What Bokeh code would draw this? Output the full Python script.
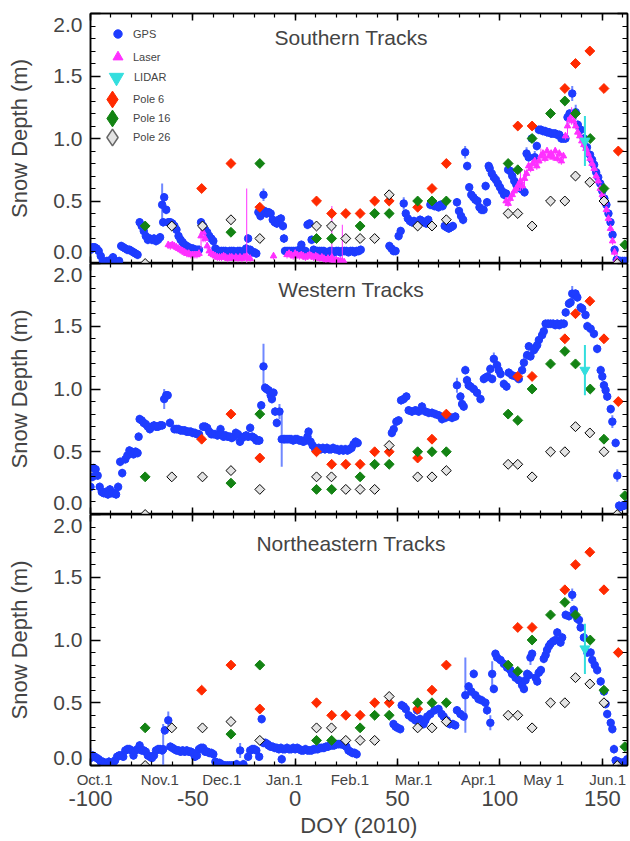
import math
from bokeh.plotting import figure
from bokeh.layouts import column
from bokeh.models import Range1d, LinearAxis, FixedTicker, Label, Legend, LegendItem
from bokeh.embed import file_html
from bokeh.resources import INLINE

FONT = "Liberation Sans"

# ---------------- axis ticks / labels ----------------
month_labels = ["Oct.1", "Nov.1", "Dec.1", "Jan.1", "Feb.1", "Mar.1", "Apr.1", "May 1", "Jun.1"]
month_label_doy = [-98.0, -66.1, -35.9, -5.4, 26.7, 57.8, 89.5, 121.3, 152.6]
doy_ticks = [-100, -50, 0, 50, 100, 150]
doy_minor = [-100, -90, -80, -70, -60, -50, -40, -30, -20, -10, 0, 10, 20, 30, 40, 50,
             60, 70, 80, 90, 100, 110, 120, 130, 140, 150, 160]
depth_ticks = [0, 0.5, 1, 1.5, 2]
depth_minor = [0.1, 0.2, 0.3, 0.4, 0.6, 0.7, 0.8, 0.9, 1.1, 1.2, 1.3, 1.4, 1.6, 1.7, 1.8, 1.9]
depth_tick_labels = ["0.0", "0.5", "1.0", "1.5", "2.0"]
# the end labels of the depth axis are drawn just inside the axis span in the original
depth_label_pos_upper = [0.09, 0.5, 1.0, 1.5, 1.91]
depth_label_pos_lower = [0.056, 0.5, 1.0, 1.5, 1.91]

# ---------------- Southern tracks: GPS ----------------
s_gps_doy = [
    -100, -99, -98, -97, -96, -95, -94, -93, -92, -91, -90, -89, -88, -87, -86,
    -85, -84, -83, -82, -81, -80, -79, -78, -77,
    -76, -75, -74, -73, -72, -71, -70, -69, -68, -67, -66,
    -65, -64.5, -64, -63, -62, -61, -60, -59, -58, -57, -56, -55, -54, -53, -52, -51, -50, -49, -48, -47,
    -46, -45, -44, -43, -42, -41, -40, -39, -38, -37, -36, -35, -34, -33, -32, -31, -30, -29, -28, -27,
    -26, -25, -24, -23, -22, -21, -20, -19,
    -18, -17, -16, -15.5, -15, -14, -13, -12, -11, -10, -9, -8, -7, -6, -5.5,
    -5, -4, -3, -2, -1, 0, 1, 2, 3, 4, 5, 6, 7, 8,
    9, 10, 11, 12, 13, 14, 15, 16, 17, 18, 19, 20, 21, 22, 23, 24, 25, 26, 27, 28, 29, 30, 31, 32,
    46, 47, 48, 49, 50.5, 51.5, 53, 54, 55, 56, 57, 58, 59, 60, 61, 62, 63, 64, 65,
    66, 67, 68, 69, 70, 71, 72, 73, 74, 75, 76, 77,
    79, 80, 81, 82, 83, 84, 85, 86, 87, 88, 89, 90, 91, 92,
    93, 93.7, 94.5, 95, 96, 97, 98, 99, 100, 101, 102, 103,
    104, 105, 106, 107, 108, 109, 110, 111, 112,
    113, 114, 115.5, 117, 118,
    119, 120, 121, 122, 123, 124, 125, 126, 127, 128, 129, 130, 131, 132,
    133, 134, 135.3, 137, 138, 139.5, 141, 142.5,
    144, 145, 146, 147, 148, 149, 150, 151, 152, 153, 154, 155, 156, 157, 158, 159, 160, 161, 162]
s_gps_depth = [
    0.11, 0.13, 0.13, 0.12, 0.10, 0.06, 0.02, 0.01, 0.02, 0.01, 0.03, 0.05, 0.02, 0.01, 0.02,
    0.14, 0.13, 0.12, 0.11, 0.11, 0.10, 0.09, 0.08, 0.07,
    0.33, 0.30, 0.26, 0.22, 0.19, 0.20, 0.19, 0.20, 0.18, 0.19, 0.21,
    0.47, 0.33, 0.53, 0.43, 0.33, 0.33, 0.32, 0.30, 0.27, 0.22, 0.19, 0.17, 0.15, 0.14, 0.13, 0.12, 0.12, 0.11, 0.11, 0.11,
    0.33, 0.30, 0.27, 0.25, 0.22, 0.20, 0.18, 0.12, 0.10, 0.10, 0.10, 0.10, 0.10, 0.09, 0.10, 0.10, 0.10, 0.09, 0.10, 0.10,
    0.09, 0.10, 0.12, 0.20, 0.11, 0.09, 0.09, 0.08,
    0.41, 0.38, 0.40, 0.55, 0.42, 0.40, 0.41, 0.40, 0.35, 0.33, 0.32, 0.35, 0.36, 0.30, 0.20,
    0.10, 0.10, 0.10, 0.10, 0.10, 0.10, 0.10, 0.11, 0.15, 0.10, 0.10, 0.31, 0.32, 0.19,
    0.11, 0.10, 0.10, 0.10, 0.10, 0.10, 0.09, 0.09, 0.10, 0.10, 0.09, 0.10, 0.10, 0.09, 0.10, 0.10, 0.10, 0.09, 0.10, 0.10, 0.09, 0.10, 0.10, 0.11,
    0.14, 0.12, 0.10, 0.10, 0.22, 0.26, 0.48, 0.40, 0.36, 0.34, 0.33, 0.34, 0.32, 0.33, 0.35, 0.34, 0.33, 0.32, 0.35,
    0.47, 0.47, 0.46, 0.46, 0.45, 0.47, 0.46, 0.30, 0.29, 0.28, 0.29, 0.30,
    0.49, 0.42, 0.38, 0.35, 0.89, 0.78, 0.61, 0.55, 0.53, 0.51, 0.50, 0.45, 0.43, 0.43,
    0.62, 0.49, 0.78, 0.76, 0.72, 0.69, 0.67, 0.64, 0.61, 0.58, 0.55, 0.56,
    0.75, 0.74, 0.70, 0.66, 0.63, 0.62, 0.60, 0.59, 0.57,
    0.88, 0.85, 1.00, 0.85, 0.94,
    1.07, 1.07, 1.06, 1.06, 1.05, 1.05, 1.04, 1.04, 1.04, 1.03, 1.03, 1.00, 1.00, 1.00,
    1.17, 1.20, 1.36, 1.21, 1.11, 1.07, 1.00, 0.93,
    0.87, 0.83, 0.79, 0.73, 0.69, 0.64, 0.58, 0.52, 0.47, 0.40, 0.33, 0.23, 0.11, 0.03, 0.02, 0.02, 0.02, 0.02, 0.02]
s_gps_err_big = {-65: 0.17, -15.5: 0.05, 53: 0.05, 83: 0.05, 113: 0.05, 117: 0.05,
                 133: 0.05, 135.3: 0.06, 137: 0.06, 139.5: 0.05}

# ---------------- Southern tracks: laser ----------------
s_laser_doy = [
    -62, -61, -60, -59, -58, -57, -56, -55, -54, -53, -52, -51, -50, -49, -48, -47,
    -46, -45, -44, -43, -42, -41, -40, -39, -38, -37, -36, -35, -34, -33, -32, -31, -30, -29, -28, -27,
    -26, -25, -24, -23.7, -22,
    -10.6,
    -4, -3, -2, -1, 0, 1, 2, 3, 4, 5, 6, 7, 8, 9, 10, 11, 12, 13, 14, 15, 16, 17,
    17.9, 18, 19, 20, 21, 22, 23, 24,
    103, 104, 105, 106, 107, 108, 109, 110, 111, 112,
    113, 114, 115, 116, 117, 118, 119, 120, 121, 122,
    123, 124, 125, 126, 127, 128, 129, 130, 131, 132,
    133, 134, 135, 136, 137, 138, 139, 140, 141, 142,
    143, 144, 145, 146, 147, 148, 149, 150, 151, 152,
    153, 154, 155, 156, 157]
s_laser_depth = [
    0.15, 0.14, 0.15, 0.14, 0.13, 0.12, 0.11, 0.10, 0.09, 0.08, 0.08, 0.07, 0.07, 0.07, 0.07, 0.08,
    0.22, 0.25, 0.20, 0.14, 0.10, 0.08, 0.07, 0.06, 0.05, 0.05, 0.05, 0.06, 0.05, 0.04, 0.05, 0.05, 0.04, 0.05, 0.04, 0.05,
    0.04, 0.05, 0.05, 0.06, 0.04,
    0.06,
    0.07, 0.08, 0.07, 0.06, 0.08, 0.07, 0.06, 0.07, 0.06, 0.05, 0.06, 0.07, 0.06, 0.05, 0.06, 0.05, 0.04, 0.05, 0.04, 0.03, 0.04, 0.03,
    0.05, 0.03, 0.02, 0.03, 0.02, 0.02, 0.02, 0.01,
    0.50, 0.48, 0.52, 0.55, 0.58, 0.60, 0.63, 0.66, 0.62, 0.68,
    0.72, 0.78, 0.76, 0.80, 0.82, 0.78, 0.82, 0.86, 0.88, 0.84,
    0.90, 0.86, 0.88, 0.85, 0.90, 0.84, 0.88, 0.82, 0.86, 1.02,
    1.10, 1.15, 1.18, 1.14, 1.10, 1.05, 1.02, 0.98, 0.95, 0.92,
    0.88, 0.84, 0.80, 0.76, 0.70, 0.66, 0.60, 0.55, 0.49, 0.43,
    0.36, 0.28, 0.18, 0.09, 0.03]
s_laser_err_big = {-46: 0.10, -45: 0.08, -23.7: 0.54, 17.9: 0.41, 23: 0.29, 110: 0.08,
                   112: 0.07, 120: 0.06, 133: 0.07, 135: 0.07}

# ---------------- Western tracks: GPS ----------------
w_gps_doy = [
    -100, -99, -98.5, -97.5, -96.5, -95.5, -94.5, -93.5, -92.5, -91.5, -90.5, -89.5, -88.5, -87.5, -86.5,
    -85.5, -84.5, -83, -82, -81, -80, -79, -78, -77, -76.5,
    -76, -75, -74, -73, -72, -71, -70, -69, -68, -67, -66, -65,
    -64, -63, -62.3, -61.2,
    -59, -58, -57, -56, -55, -54, -53, -52, -51, -50, -49, -48, -47,
    -45, -44, -43, -42, -41, -40, -39, -38, -37, -36.5, -36, -35, -34, -33, -32, -31, -30, -29, -28, -27,
    -26, -25, -24, -23, -22, -21, -20, -19, -18, -17.5,
    -16.6, -15.5, -14.7, -14, -13, -12, -11.4, -10.6, -9.8, -9, -7.7, -6.6,
    -5.7, -5, -4, -3, -2, -1, 0, 1, 2, 3, 4, 5, 6, 6.5, 7.5, 8.5,
    9.5, 10.5, 11.5, 12.5, 13.5, 14.5, 15.5, 16.5, 17.5, 18.5, 19.5, 20.5, 21.5, 22.5, 23.5, 24.5,
    25.5, 26.5, 27.5, 28.5, 29.5, 30.5,
    47.2, 48.1, 49.4, 50.5, 51.7, 53, 54.3,
    55.4, 57, 58.7, 60.3, 61.9, 63.6, 65.2, 66.8, 68.4, 70.1, 71.7, 73.3, 74.9, 76.6, 78.2,
    79, 80.7, 81.5, 82.3, 83.1, 83.9, 84.7, 85.6, 87.2, 88.8, 90.5,
    92.1, 92.9, 94, 95.3, 96.2, 97, 98.6, 99.4, 100.3, 101.9, 103.2,
    104.3, 105.9, 107.6, 109.2, 110.8, 111.7, 113.3, 114.1, 114.9, 116.6, 117.4, 118.2, 119, 120.6, 121.4,
    122.3, 123.5, 124.7, 126, 127, 128, 129, 130, 131.2,
    132.1, 133.7, 134.5, 135.3, 136.1, 136.9, 137.8, 139.4, 140.2, 141.8, 142.7, 144.3, 145.9,
    147.5, 149.2, 150, 150.8, 151.6, 152.4, 154.1, 154.9, 156.5, 157.3,
    158.2, 159, 159.8, 160.6, 161.4, 162.2]
w_gps_depth = [
    0.22, 0.30, 0.37, 0.36, 0.31, 0.22, 0.18, 0.17, 0.18, 0.16, 0.20, 0.17, 0.17, 0.16, 0.22,
    0.42, 0.33, 0.44, 0.47, 0.51, 0.50, 0.48, 0.50, 0.49, 0.62,
    0.76, 0.75, 0.73, 0.72, 0.70, 0.68, 0.70, 0.71, 0.70, 0.70, 0.71, 0.71,
    0.92, 0.95, 0.95, 0.73,
    0.68, 0.68, 0.68, 0.67, 0.67, 0.67, 0.66, 0.66, 0.66, 0.65, 0.65, 0.64, 0.64,
    0.70, 0.70, 0.69, 0.66, 0.64, 0.64, 0.64, 0.63, 0.64, 0.68, 0.64, 0.62, 0.63, 0.62, 0.62, 0.61, 0.62, 0.65, 0.64, 0.58,
    0.61, 0.62, 0.63, 0.62, 0.69, 0.62, 0.61, 0.59, 0.59, 0.59,
    0.87, 1.18, 1.01, 1.00, 0.99, 0.95, 0.92, 0.97, 0.82, 0.73, 0.82, 0.60,
    0.60, 0.60, 0.60, 0.60, 0.60, 0.59, 0.60, 0.60, 0.59, 0.59, 0.58, 0.59, 0.62, 0.66, 0.58, 0.55,
    0.53, 0.52, 0.53, 0.52, 0.53, 0.52, 0.53, 0.52, 0.52, 0.53, 0.52, 0.52, 0.51, 0.52, 0.51, 0.52,
    0.51, 0.52, 0.53, 0.56, 0.58, 0.57,
    0.65, 0.68, 0.74, 0.75, 0.91, 0.92, 0.94,
    0.83, 0.82, 0.83, 0.82, 0.86, 0.82, 0.81, 0.81, 0.80, 0.79, 0.76, 0.77, 0.78, 0.77, 0.78,
    1.03, 0.94, 0.88, 0.86, 1.15, 1.07, 1.03, 1.02, 1.00, 0.97, 0.92,
    1.08, 1.09, 1.10, 1.16, 1.08, 1.24, 1.19, 1.15, 1.12, 1.04, 1.02,
    1.13, 1.11, 1.10, 1.08, 1.15, 1.21, 1.27, 1.34, 1.26, 1.31, 1.33, 1.35, 1.39, 1.43, 1.46,
    1.52, 1.52, 1.52, 1.52, 1.51, 1.52, 1.51, 1.52, 1.52,
    1.61, 1.68, 1.69, 1.76, 1.75, 1.76, 1.73, 1.65, 1.64, 1.59, 1.50, 1.48, 1.44,
    1.32, 1.15, 1.10, 1.03, 0.99, 0.94, 0.84, 0.74, 0.57, 0.31,
    0.07, 0.06, 0.07, 0.07, 0.08, 0.08]
w_gps_err_big = {-64: 0.08, -15.5: 0.18, -7.7: 0.06, -6.6: 0.22, 79: 0.06, 97: 0.05,
                 111.7: 0.06, 135.3: 0.06, 154.9: 0.05, 157.3: 0.05}

# ---------------- Northeastern tracks: GPS ----------------
n_gps_doy = [
    -100, -99, -98, -97, -96, -95, -94, -93, -92, -91, -90, -89, -88, -87, -86, -85, -84,
    -83, -82, -81, -80, -79, -78, -77, -76, -75, -74, -73, -72, -71, -70, -69, -68, -67, -66, -65,
    -64.5, -63.7, -62, -61, -60, -59, -58, -57, -56, -55, -54, -53, -52, -51, -50, -49, -48,
    -47, -46, -45, -44, -43, -42, -41, -40, -39, -38, -37, -36, -35, -34, -33, -32, -31, -30,
    -28.6, -26.9, -25.3, -23, -22, -21, -20, -19, -17.6, -16.4, -15.5, -14.5, -13.5,
    -13, -12, -11, -10, -9, -8, -7, -6.6, -6, -5, -4, -3, -2, -1, 0, 1, 2, 3, 4, 5, 6, 7, 8,
    9, 10, 11, 12, 13, 14, 15, 16, 17, 18, 19, 20, 21, 22, 23, 24, 25, 26, 27, 28, 29, 30,
    48, 49, 50, 51.3, 52, 53, 54, 55.4, 57, 58.7, 59.5, 61, 62.7, 63.6, 64.5, 66, 68, 70, 71.5, 72.5, 74, 75.5, 77, 78.2,
    79, 80.7, 82.3, 83.1, 84.7, 86, 87.2, 88, 89.5, 91, 92.9, 93.7, 95.3, 96.2, 97, 97.8,
    98.6, 100.3, 101.9, 103.5, 105.1, 105.9, 107.6, 109.2, 110.8, 111.7, 112.5, 113.3, 114.1, 114.9, 115.7,
    117.4, 118.2, 119, 120, 121.4, 122.3, 123, 123.9, 124.7, 126, 127.2, 128, 129.6, 130.4,
    132.1, 133.7, 135.3, 136.1, 137.8, 138.6, 139.4, 141, 142.7, 144.3, 145.1, 146.3, 147.5,
    149.2, 150.8, 151.6, 152.4, 154.1, 154.9, 155.7, 156.5, 158, 159.5, 161, 162.2]
n_gps_depth = [
    0.06, 0.08, 0.07, 0.06, 0.05, 0.03, 0.03, 0.02, 0.01, 0.03, 0.02, 0.01, 0.04, 0.07, 0.08, 0.08, 0.07,
    0.12, 0.13, 0.13, 0.12, 0.08, 0.12, 0.13, 0.16, 0.12, 0.12, 0.11, 0.08, 0.07, 0.06, 0.08, 0.12, 0.13, 0.13, 0.12,
    0.13, 0.28, 0.36, 0.15, 0.14, 0.13, 0.12, 0.12, 0.11, 0.12, 0.11, 0.12, 0.11, 0.11, 0.10, 0.07, 0.08,
    0.13, 0.14, 0.14, 0.11, 0.11, 0.10, 0.10, 0.09, 0.03, 0.02, 0.02, 0.01, 0.00, 0.00, 0.00, 0.00, 0.00, 0.00,
    0.01, 0.12, 0.01, 0.07, 0.12, 0.13, 0.13, 0.12, 0.07, 0.37, 0.18, 0.18, 0.17,
    0.16, 0.15, 0.15, 0.14, 0.14, 0.13, 0.14, 0.05, 0.13, 0.13, 0.14, 0.13, 0.13, 0.14, 0.13, 0.14, 0.13, 0.12, 0.12, 0.13, 0.12, 0.12, 0.12,
    0.13, 0.13, 0.13, 0.14, 0.14, 0.14, 0.15, 0.15, 0.16, 0.16, 0.16, 0.17, 0.17, 0.17, 0.17, 0.16, 0.15, 0.12, 0.11, 0.10, 0.10, 0.09,
    0.33, 0.31, 0.30, 0.29, 0.48, 0.47, 0.45, 0.40, 0.38, 0.36, 0.44, 0.37, 0.33, 0.36, 0.39, 0.41, 0.44, 0.45, 0.41, 0.39, 0.36, 0.33, 0.33, 0.32,
    0.44, 0.41, 0.39, 0.56, 0.63, 0.59, 0.73, 0.56, 0.53, 0.52, 0.50, 0.44, 0.34, 0.73, 0.61, 0.89,
    0.86, 0.84, 0.81, 0.78, 0.76, 0.73, 0.70, 0.68, 0.64, 0.61, 0.68, 0.73, 0.72, 0.86, 0.89,
    0.70, 0.67, 0.74, 0.76, 0.85, 0.88, 0.92, 0.95, 0.97, 0.99, 1.00, 1.06, 0.98, 1.02,
    1.20, 1.19, 1.36, 1.24, 1.17, 1.16, 1.10, 1.02, 0.90, 0.90, 0.84, 0.80, 0.76,
    0.67, 0.59, 0.49, 0.41, 0.34, 0.29, 0.13, 0.04, 0.03, 0.02, 0.03, 0.05]
n_gps_err_big = {-100: 0.08, -64.5: 0.20, -62: 0.07, -26.9: 0.06, 83.1: 0.30, 95.3: 0.06,
                 96.2: 0.10, 114.9: 0.06, 117.4: 0.05, 135.3: 0.05}

# ---------------- LIDAR (one estimate per region) ----------------
lidar_doy = [141.5]
s_lidar_depth, s_lidar_err = [0.98], [0.20]
w_lidar_depth, w_lidar_err = [1.15], [0.20]
n_lidar_depth, n_lidar_err = [0.93], [0.20]

# ---------------- snow poles (same in every panel) ----------------
pole6_doy = [-45.7, -31.4, -17.3, 10.4, 17.8, 24.7, 31.7, 38.8, 45.9, 59.8, 66.8, 73.8,
             108.7, 115.7, 131.7, 136.9, 143.9, 150.8, 157.8]
pole6_depth = [0.6, 0.8, 0.45, 0.5, 0.4, 0.4, 0.4, 0.5, 0.5, 0.45, 0.6, 0.8,
               1.1, 1.1, 1.4, 1.6, 1.7, 1.4, 0.9]
pole16_doy = [-73.3, -31.4, -17.3, 10.4, 17.8, 31.7, 38.8, 45.9, 59.8, 66.8, 73.8,
              104.0, 108.7, 115.7, 124.7, 131.7, 136.9, 144.1, 150.8, 161.0]
pole16_depth = [0.3, 0.25, 0.8, 0.2, 0.2, 0.3, 0.4, 0.4, 0.5, 0.5, 0.5,
                0.8, 0.75, 1.0, 1.2, 1.3, 1.2, 1.0, 0.6, 0.15]
pole26_doy = [-73.3, -60.3, -45.3, -31.4, -17.3, 10.4, 17.7, 24.7, 31.7, 38.8, 45.9, 59.8,
              66.8, 73.8, 104.0, 108.7, 115.7, 124.7, 131.7, 136.9, 143.9, 150.8, 157.3]
pole26_depth = [0.0, 0.3, 0.3, 0.35, 0.2, 0.3, 0.3, 0.2, 0.2, 0.2, 0.55, 0.3,
                0.3, 0.35, 0.4, 0.4, 0.3, 0.5, 0.5, 0.7, 0.65, 0.5, 0.0]

# ---------------- style ----------------
GPS_C = "#1e3cff"
GPS_ERR_C = "#7088ff"
LASER_C = "#ff30ff"
LIDAR_C = "#33dede"
P6_C = "#ff2a00"
P16_C = "#138313"
P26_FILL = "#e3e3e3"

x_range = Range1d(-100, 162.3)


def errs(doy, big, default=0.035):
    return [big.get(d, default) for d in doy]


def add_errbars(p, xs, ys, es, color, width):
    n = min(len(xs), len(ys), len(es))
    lo = [ys[i] - es[i] for i in range(n)]
    hi = [ys[i] + es[i] for i in range(n)]
    p.segment(x0=list(xs[:n]), y0=lo, x1=list(xs[:n]), y1=hi,
              line_color=color, line_width=width)


def tick_axis(ticks, minor, major_len, minor_len):
    """An axis that only draws inward tick marks (labels left empty)."""
    ax = LinearAxis(ticker=FixedTicker(ticks=ticks, minor_ticks=minor))
    ax.major_tick_in = major_len
    ax.major_tick_out = 0
    ax.minor_tick_in = minor_len
    ax.minor_tick_out = 0
    ax.major_tick_line_width = 1.5
    ax.minor_tick_line_width = 1.2
    ax.axis_line_width = 1.5
    ax.major_label_overrides = {t: "" for t in ticks}
    ax.major_label_text_font_size = "1px"
    ax.major_label_standoff = 0
    return ax


def label_axis(ticks, labels, font_size, standoff):
    """An axis that only draws labels (no line, no ticks)."""
    ax = LinearAxis(ticker=FixedTicker(ticks=ticks, minor_ticks=[]))
    ax.major_tick_in = 0
    ax.major_tick_out = 0
    ax.minor_tick_in = 0
    ax.minor_tick_out = 0
    ax.axis_line_color = None
    ax.major_label_overrides = {t: s for t, s in zip(ticks, labels)}
    ax.major_label_text_font = FONT
    ax.major_label_text_font_size = font_size
    ax.major_label_standoff = standoff
    return ax


def one_item_legend(label, renderer, box, loc, standoff):
    """A one-entry legend; the symbol size follows the glyph box (0.4 * box)."""
    return Legend(items=[LegendItem(label=label, renderers=[renderer])], location=loc,
                  margin=0, padding=0, glyph_width=box, glyph_height=box, label_height=box,
                  label_standoff=standoff, spacing=0,
                  border_line_color=None, background_fill_alpha=0,
                  label_text_font=FONT, label_text_font_size="11px")


def make_panel(title, title_y, frame_h, top_border, gps_doy, gps_depth, gps_err,
               lidar_depth, lidar_err, label_pos, laser=None, legend=False, bottom=False):
    p = figure(frame_width=537, frame_height=frame_h, x_range=x_range, y_range=Range1d(0, 2),
               x_axis_location=None, y_axis_location=None,
               toolbar_location=None, output_backend="svg",
               min_border_left=90, min_border_right=3, min_border_top=top_border,
               min_border_bottom=0, outline_line_color="black", outline_line_width=1.5,
               background_fill_color="white", border_fill_color="white")
    for g in p.grid:
        g.visible = False

    # left: tick marks, then labels + title
    p.add_layout(tick_axis(depth_ticks, depth_minor, 10, 5), "left")
    yl = label_axis(label_pos, depth_tick_labels, "21px", 8)
    yl.axis_label = "Snow Depth (m)"
    yl.axis_label_text_font = FONT
    yl.axis_label_text_font_size = "22px"
    yl.axis_label_text_font_style = "normal"
    yl.axis_label_standoff = 18
    p.add_layout(yl, "left")
    p.add_layout(tick_axis(depth_ticks, depth_minor, 10, 5), "right")
    p.add_layout(tick_axis(doy_ticks, doy_minor, 7, 4), "above")
    p.add_layout(tick_axis(doy_ticks, doy_minor, 7, 4), "below")

    if bottom:
        p.add_layout(label_axis(month_label_doy, month_labels, "15px", 5), "below")
        nb = label_axis(doy_ticks, [str(d) for d in doy_ticks], "22px", 0)
        nb.axis_label = "DOY (2010)"
        nb.axis_label_text_font = FONT
        nb.axis_label_text_font_size = "22px"
        nb.axis_label_text_font_style = "normal"
        nb.axis_label_standoff = 4
        p.add_layout(nb, "below")

    # GPS
    add_errbars(p, gps_doy, gps_depth, gps_err, GPS_ERR_C, 2)
    n = min(len(gps_doy), len(gps_depth))
    p.scatter(x=gps_doy[:n], y=gps_depth[:n], marker="circle", size=7.5,
              fill_color=GPS_C, line_color=GPS_C)

    # laser
    if laser is not None:
        ld, lv, le = laser
        add_errbars(p, ld, lv, le, LASER_C, 1)
        m = min(len(ld), len(lv))
        p.scatter(x=ld[:m], y=lv[:m], marker="triangle", size=6.5,
                  fill_color=LASER_C, line_color=LASER_C)

    # poles
    p.scatter(x=pole6_doy, y=pole6_depth, marker="square", angle=math.pi / 4, size=7,
              fill_color=P6_C, line_color=P6_C)
    p.scatter(x=pole16_doy, y=pole16_depth, marker="square", angle=math.pi / 4, size=7,
              fill_color=P16_C, line_color=P16_C)
    p.scatter(x=pole26_doy, y=pole26_depth, marker="square", angle=math.pi / 4, size=7,
              fill_color=P26_FILL, line_color="black", line_width=1)

    # LIDAR
    add_errbars(p, lidar_doy, lidar_depth, lidar_err, LIDAR_C, 2)
    p.scatter(x=lidar_doy, y=lidar_depth, marker="inverted_triangle", size=10,
              fill_color=LIDAR_C, line_color=LIDAR_C)

    p.add_layout(Label(x=27.3, y=title_y, text=title, text_align="center",
                       text_baseline="middle", text_font=FONT, text_font_size="21px"))

    if legend:
        # hidden copies of the series, used only as legend symbols
        ld, lv, le = laser
        g_dot = p.scatter(x=gps_doy, y=gps_depth, marker="circle",
                          fill_color=GPS_C, line_color=GPS_C, visible=False)
        l_tri = p.scatter(x=ld, y=lv, marker="triangle",
                          fill_color=LASER_C, line_color=LASER_C, visible=False)
        d_tri = p.scatter(x=lidar_doy, y=lidar_depth, marker="inverted_triangle",
                          fill_color=LIDAR_C, line_color=LIDAR_C, visible=False)
        p6 = p.scatter(x=pole6_doy, y=pole6_depth, marker="diamond",
                       fill_color=P6_C, line_color=P6_C, visible=False)
        p16 = p.scatter(x=pole16_doy, y=pole16_depth, marker="diamond",
                        fill_color=P16_C, line_color=P16_C, visible=False)
        p26 = p.scatter(x=pole26_doy, y=pole26_depth, marker="diamond",
                        fill_color=P26_FILL, line_color="#666666", line_width=1.5, visible=False)
        # one legend block per entry, so each symbol can have its own size
        p.add_layout(one_item_legend("GPS", g_dot, 21, (17, 219), 5))
        p.add_layout(one_item_legend("Laser", l_tri, 25, (15, 194), 3))
        p.add_layout(one_item_legend("LIDAR", d_tri, 36, (8, 168), 0))
        p.add_layout(one_item_legend("Pole 6", p6, 42, (1, 143), 0))
        p.add_layout(one_item_legend("Pole 16", p16, 42, (1, 124), 0))
        p.add_layout(one_item_legend("Pole 26", p26, 42, (1, 105), 0))
    return p


p1 = make_panel("Southern Tracks", 1.812, 250, 13, s_gps_doy, s_gps_depth,
                errs(s_gps_doy, s_gps_err_big), s_lidar_depth, s_lidar_err,
                depth_label_pos_upper,
                laser=(s_laser_doy, s_laser_depth, errs(s_laser_doy, s_laser_err_big, 0.03)),
                legend=True)
p2 = make_panel("Western Tracks", 1.793, 251, 0, w_gps_doy, w_gps_depth,
                errs(w_gps_doy, w_gps_err_big), w_lidar_depth, w_lidar_err,
                depth_label_pos_upper)
p3 = make_panel("Northeastern Tracks", 1.769, 251, 0, n_gps_doy, n_gps_depth,
                errs(n_gps_doy, n_gps_err_big), n_lidar_depth, n_lidar_err,
                depth_label_pos_lower, bottom=True)

layout = column(p1, p2, p3, spacing=0)
open("out.html", "w").write(file_html(layout, INLINE, title="Snow depth"))
